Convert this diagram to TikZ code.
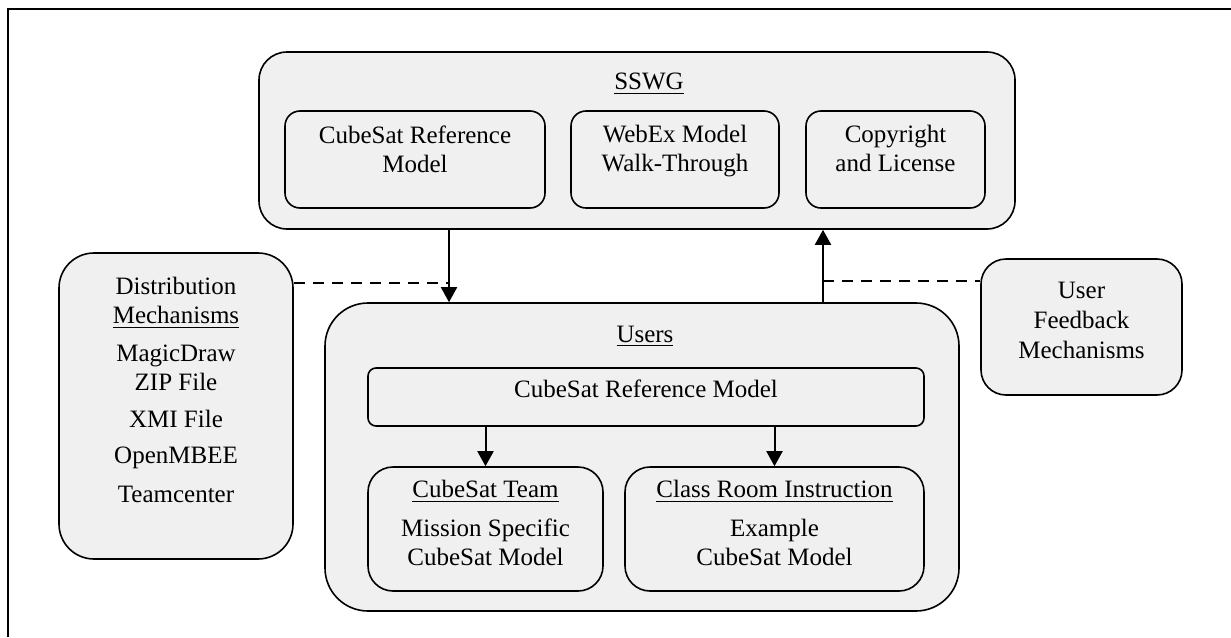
\documentclass[tikz,border=0pt]{standalone}
\usepackage{fontspec}
\setmainfont{Liberation Serif}
\usepackage{tikz}
\usetikzlibrary{arrows.meta}
\usetikzlibrary{positioning}
\definecolor{boxgray}{RGB}{240,240,240}

\begin{document}
\begin{tikzpicture}[x = 0.5pt, y = -0.5pt]
		\tikzset{box/.style={shape = rectangle, draw, fill = boxgray, line width = 0.8pt, inner sep = 0pt}}
		\tikzset{txt/.style={align = center, inner sep = 0pt, anchor = north, font = \fontsize{12.5}{14.5}\selectfont}}
		\tikzset{edge/.style={-{Triangle[length = 7.5pt, width = 8pt]}, line width = 1pt}}
		\tikzset{link/.style={line width = 0.8pt, dash pattern = on 5.5pt off 4pt}}
		\useasboundingbox (0, 0) rectangle (1231, 637);
		%frame
		\draw[line width = 1pt] (8, 637) -- (8, 9) -- (1231, 9);
		%SSWG
		\node[box, rounded corners = 14pt, minimum width = 378pt, minimum height = 88.5pt] (sswg) at (637, 140.5) {};
		\node[txt] (sswgtitle) at (649, 73) {\underline{SSWG}};
		\node[box, rounded corners = 7.5pt, minimum width = 130pt, minimum height = 48.5pt] (refmodel) at (415, 159.5) {};
		\node[box, rounded corners = 7.5pt, minimum width = 104pt, minimum height = 48.5pt] (webex) at (675, 159.5) {};
		\node[box, rounded corners = 7.5pt, minimum width = 89.5pt, minimum height = 48.5pt] (license) at (895.5, 159.5) {};
		\node[txt, below = 7.5pt of refmodel.north] (refmodeltxt) {CubeSat Reference\\Model};
		\node[txt, below = 7.5pt of webex.north] (webextxt) {WebEx Model\\Walk-Through};
		\node[txt, below = 7.5pt of license.north] (licensetxt) {Copyright\\and License};
		%side boxes
		\node[box, rounded corners = 17.5pt, minimum width = 117pt, minimum height = 153pt] (dist) at (176, 406) {};
		\node[txt, below = 12.5pt of dist.north] (disttxt) {Distribution\\\underline{Mechanisms}\\[4.5pt]MagicDraw\\ZIP File\\[4pt]XMI File\\[3.5pt]OpenMBEE\\[5pt]Teamcenter};
		\node[box, rounded corners = 12.5pt, minimum width = 100.5pt, minimum height = 68pt] (feedback) at (1081.5, 327) {};
		\node[txt, below = 12pt of feedback.north] (feedbacktxt) {User\\[0.5pt]Feedback\\[0.5pt]Mechanisms};
		%Users
		\node[box, rounded corners = 21.5pt, minimum width = 317pt, minimum height = 154pt] (users) at (642, 457) {};
		\node[txt] (userstitle) at (645, 326) {\underline{Users}};
		\node[box, rounded corners = 4pt, minimum width = 278pt, minimum height = 29pt] (usermodel) at (646, 397) {};
		\node[txt, below = 6pt of usermodel.north] (usermodeltxt) {CubeSat Reference Model};
		\node[box, rounded corners = 12.5pt, minimum width = 117.5pt, minimum height = 62pt] (team) at (485.5, 529) {};
		\node[box, rounded corners = 12.5pt, minimum width = 149.5pt, minimum height = 62pt] (classroom) at (774.5, 529) {};
		\node[txt, below = 7pt of team.north] (teamtxt) {\underline{CubeSat Team}\\[5pt]Mission Specific\\CubeSat Model};
		\node[txt, below = 7pt of classroom.north] (classroomtxt) {\underline{Class Room Instruction}\\[5pt]Example\\CubeSat Model};
		%edges
		\coordinate (distjoin) at (449, 283);
		\coordinate (feedjoin) at (823, 281);
		\draw[edge] (sswg.south -| distjoin) -- (users.north -| distjoin);
		\draw[edge] (users.north -| feedjoin) -- (sswg.south -| feedjoin);
		\draw[edge] (usermodel.south -| team.north) -- (team.north);
		\draw[edge] (usermodel.south -| classroom.north) -- (classroom.north);
		\draw[link] (dist.east |- distjoin) -- (distjoin);
		\draw[link] (feedjoin) -- (feedjoin -| feedback.west);
\end{tikzpicture}
\end{document}
